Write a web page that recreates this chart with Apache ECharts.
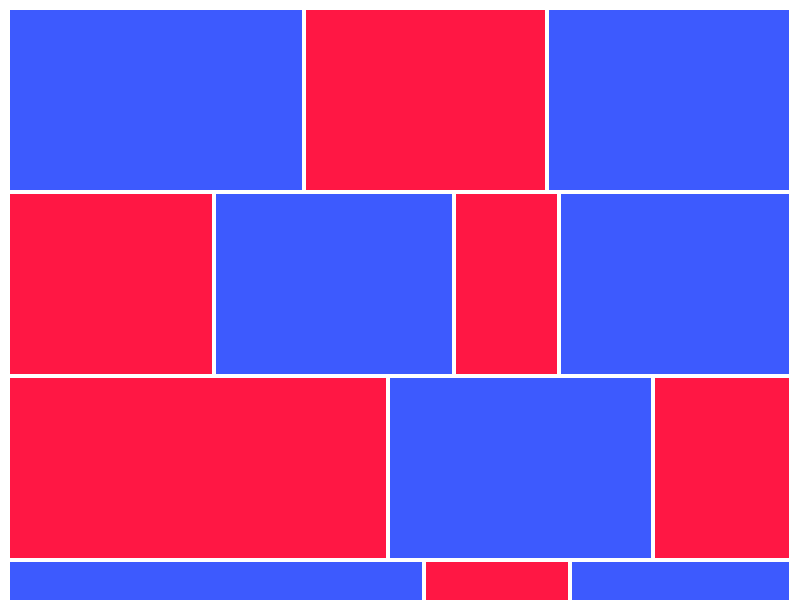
<!DOCTYPE html>
<html>
<head>
<meta charset="utf-8">
<script src="https://cdn.jsdelivr.net/npm/echarts@6/dist/echarts.min.js"></script>
<style>html,body{margin:0;padding:0;background:#fff}#c{width:800px;height:600px}</style>
</head>
<body>
<div id="c"></div>
<script>
const rows = ['Row 1', 'Row 2', 'Row 3', 'Row 4'];
const row1Sizes = [296, 243, 240];
const row2Sizes = [206, 240, 105, 228];
const row3Sizes = [380, 265, 134];
const row4Sizes = [416, 146, 217];
const row1Colors = ['blue', 'red', 'blue'];
const row2Colors = ['red', 'blue', 'red', 'blue'];
const row3Colors = ['red', 'blue', 'red'];
const row4Colors = ['blue', 'red', 'blue'];
const palette = { blue: '#3D5AFE', red: '#FF1744' };

const allSizes = [row1Sizes, row2Sizes, row3Sizes, row4Sizes];
const allColors = [row1Colors, row2Colors, row3Colors, row4Colors];
const data = [];
allSizes.forEach((sizes, r) => {
  let start = 0;
  sizes.forEach((v, i) => {
    data.push({
      value: [start, start + v, r, i === sizes.length - 1 ? 1 : 0],
      itemStyle: { color: palette[allColors[r][i]] }
    });
    start += v;
  });
});
const total = row1Sizes.reduce((a, b) => a + b, 0);

const chart = echarts.init(document.getElementById('c'));
chart.setOption({
  animation: false,
  grid: { left: 10, top: 10, width: 779, height: 736, outerBoundsMode: 'none', containLabel: false },
  xAxis: { type: 'value', min: 0, max: total, show: false },
  yAxis: { type: 'category', data: rows, inverse: true, show: false },
  series: [{
    type: 'custom',
    data: data,
    clip: false,
    renderItem: function (params, api) {
      const s = api.coord([api.value(0), api.value(2)]);
      const e = api.coord([api.value(1), api.value(2)]);
      const h = api.size([0, 1])[1];
      const gap = 4;
      const isLast = api.value(3) === 1;
      return {
        type: 'rect',
        shape: {
          x: s[0],
          y: s[1] - h / 2,
          width: e[0] - s[0] - (isLast ? 0 : gap),
          height: h - gap
        },
        style: { fill: api.visual('color') }
      };
    }
  }]
});
</script>
</body>
</html>
